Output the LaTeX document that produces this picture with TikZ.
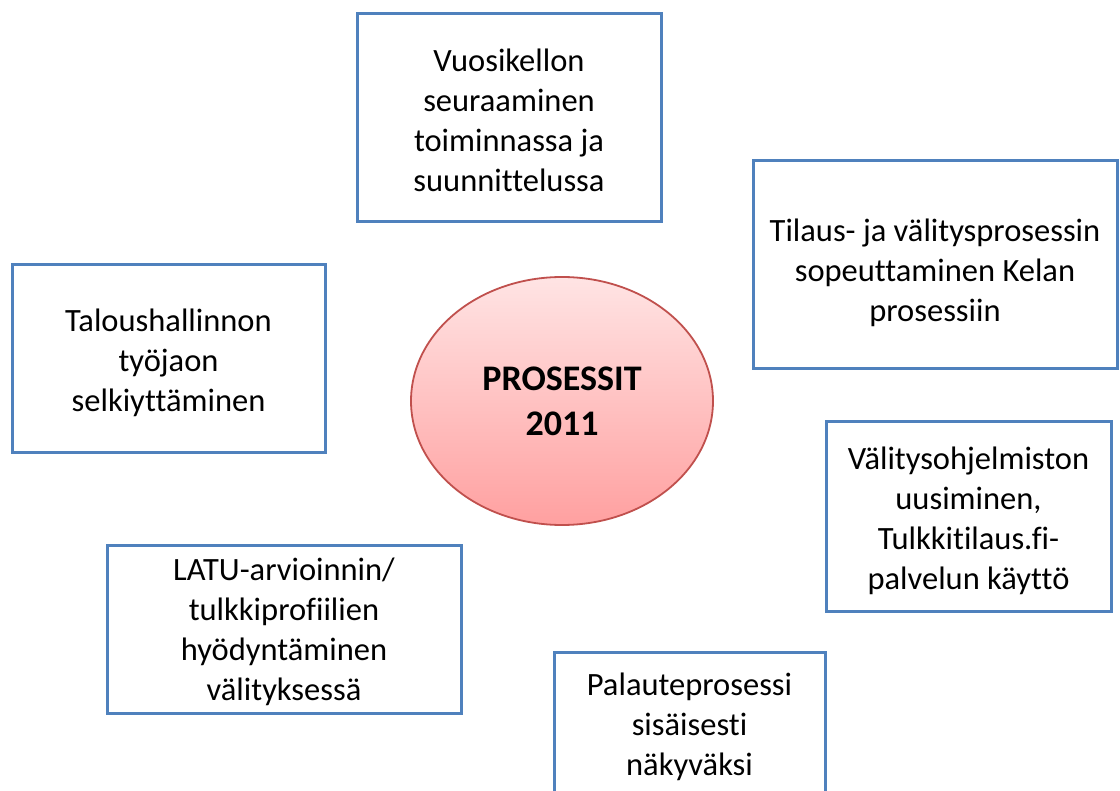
\documentclass[tikz,border=0pt]{standalone}
\usepackage{fontspec}
\setmainfont{Carlito}[Ligatures=NoCommon]
\usetikzlibrary{shapes.geometric}
\definecolor{boxblue}{RGB}{79,129,189}
\definecolor{ellred}{RGB}{192,80,77}
\definecolor{pinktop}{RGB}{255,228,228}
\definecolor{pinkbot}{RGB}{255,160,160}
\tikzset{
  topic/.style={draw=boxblue, line width=3pt, fill=white, inner sep=0pt},
  topictext/.style={align=center, inner sep=0pt, font=\fontsize{32.5}{40}\selectfont},
}
\begin{document}
\begin{tikzpicture}[x=1pt,y=-1pt]
\useasboundingbox (0,0) rectangle (1120,791);
\clip (0,0) rectangle (1120,791);
% central ellipse
\node (c) [ellipse, draw=ellred, line width=1.8pt, top color=pinktop, bottom color=pinkbot,
  minimum width=302pt, minimum height=248pt, inner sep=0pt, align=center,
  font=\bfseries\fontsize{36}{45}\selectfont] at (562,401) {PROSESSIT\\2011};
% boxes
\node (b1) [topic, minimum width=304pt, minimum height=208pt] at (509,118) {};
\node (t1) [topictext] at ([yshift=-2pt]b1.center)
  {Vuosikellon\\seuraaminen\\toiminnassa ja\\suunnittelussa};
\node (b2) [topic, minimum width=364pt, minimum height=208pt] at (935,265) {};
\node (t2) [topictext] at ([yshift=-8pt]b2.center)
  {Tilaus- ja välitysprosessin\\sopeuttaminen Kelan\\prosessiin};
\node (b3) [topic, minimum width=313pt, minimum height=188pt] at (168.5,359) {};
\node (t3) [topictext] at ([yshift=-4pt]b3.center)
  {Taloushallinnon\\työjaon\\selkiyttäminen};
\node (b4) [topic, minimum width=285pt, minimum height=189pt] at (968.5,516.5) {};
\node (t4) [topictext] at ([yshift=-4pt]b4.center)
  {Välitysohjelmiston\\uusiminen,\\Tulkkitilaus.fi-\\palvelun käyttö};
\node (b5) [topic, minimum width=354pt, minimum height=167pt] at (284,629.5) {};
\node (t5) [topictext] at ([yshift=-2pt]b5.center)
  {LATU-arvioinnin/\\tulkkiprofiilien\\hyödyntäminen\\välityksessä};
\node (b6) [topic, minimum width=271pt, minimum height=144pt] at (689.5,724) {};
\node (t6) [topictext] at ([yshift=-3pt]b6.center)
  {Palauteprosessi\\sisäisesti\\näkyväksi};
\end{tikzpicture}
\end{document}
